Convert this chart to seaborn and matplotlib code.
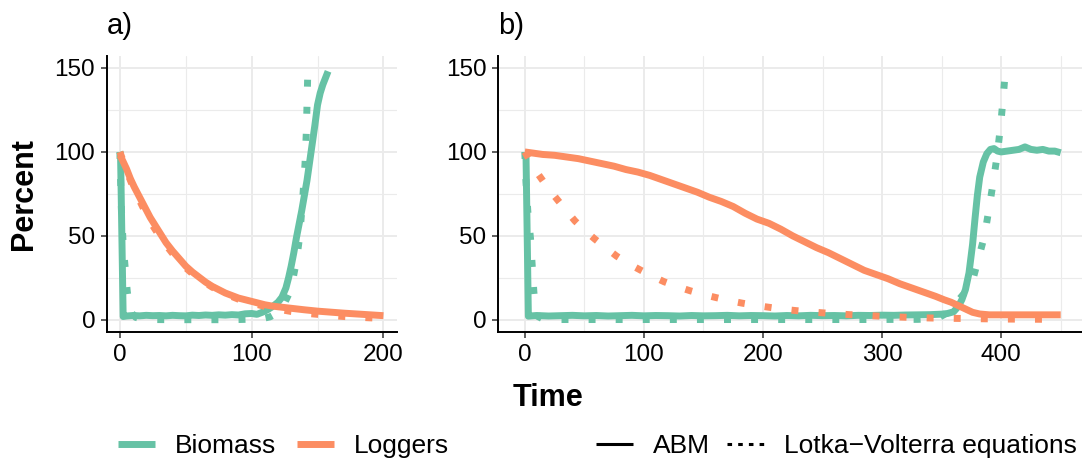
import numpy as np
import pandas as pd
import matplotlib
matplotlib.use("Agg")
import matplotlib.pyplot as plt
from matplotlib.lines import Line2D
import seaborn as sns

# ---------------- data ----------------
# Panel a) -- agent based model (ABM) runs
a_abm_biomass_t = [0, 0.5, 2.5, 5, 10, 15, 20, 25, 30, 35, 40, 45, 50, 55, 60, 65, 70, 75, 80,
                   85, 90, 95, 100, 104, 108, 112, 116, 120, 123, 126, 128, 130, 132, 134, 136,
                   138, 140, 142, 144, 146, 148, 150, 152, 154, 156, 158]
a_abm_biomass_v = [100, 99, 2.0, 2.3, 2.6, 2.4, 2.7, 2.5, 2.6, 2.4, 2.7, 2.5, 2.4, 2.8, 2.6, 2.9,
                   2.7, 3.0, 2.8, 3.1, 2.9, 3.6, 3.8, 3.3, 4.5, 6.0, 8.0, 10.5, 13.5, 19, 25, 32,
                   40, 49, 57, 65, 74, 83, 94, 105, 116, 128, 135, 140, 144, 148]
a_abm_loggers_t = [0, 2, 5, 8, 11, 15, 19, 23, 27, 31, 35, 40, 45, 50, 55, 60, 65, 70, 75, 80,
                   85, 90, 95, 100, 105, 110, 115, 120, 130, 140, 150, 160, 170, 180, 190, 200]
a_abm_loggers_v = [98, 95, 90, 84, 79, 73, 67, 61, 56, 51, 46, 41, 36.5, 32, 28.5, 25.5, 22.5,
                   20, 18, 16, 14.5, 13, 12, 11, 10, 9, 8.3, 7.8, 6.9, 6.0, 5.2, 4.6, 4.0, 3.5,
                   3.0, 2.5]
# Panel a) -- Lotka-Volterra solution
a_lv_biomass_t = [0, 0.5, 1.2, 2.5, 3.8, 5.6, 7, 9, 12, 16, 25, 40, 60, 80, 90, 100, 105, 110,
                  114, 118, 122, 125, 128, 131, 134, 136, 137.5, 139, 140.5, 141.5, 142, 142.5,
                  142.8]
a_lv_biomass_v = [100, 85, 65, 45, 33, 17, 9, 4, 1.5, 0.6, 0.2, 0.1, 0.1, 0.1, 0.2, 0.4, 0.7,
                  1.1, 1.8, 3.5, 6.5, 10, 15, 23, 35, 47, 60, 75, 93, 112, 128, 144, 149]
a_lv_loggers_t = [0, 5, 10, 15, 20, 25, 30, 35, 40, 45, 50, 55, 60, 70, 80, 90, 100, 110, 120,
                  130, 140, 150, 160, 170, 180, 190, 200]
a_lv_loggers_v = [100, 89, 79, 71, 63, 56, 50, 44.5, 39.5, 35, 31, 27.5, 24.5, 19.5, 15.5, 12.3,
                  10, 8, 6.4, 5.0, 4.0, 3.3, 2.6, 2.0, 1.6, 1.2, 0.9]

# Panel b) -- agent based model (ABM) runs
b_abm_biomass_t = [0, 1, 3, 6, 10, 20, 30, 40, 50, 60, 70, 80, 90, 100, 110, 120, 130, 140, 150,
                   160, 170, 180, 190, 200, 210, 220, 230, 240, 250, 260, 270, 280, 290, 300,
                   310, 320, 330, 340, 350, 355, 360, 364, 367, 370, 373, 376, 378, 380, 382,
                   385, 388, 391, 394, 397, 400, 405, 410, 415, 420, 425, 430, 435, 440, 445,
                   450]
b_abm_biomass_v = [100, 99, 2.2, 2.4, 2.6, 2.3, 2.5, 2.7, 2.4, 2.6, 2.3, 2.5, 2.7, 2.4, 2.6, 2.5,
                   2.3, 2.6, 2.4, 2.5, 2.7, 2.4, 2.6, 2.5, 2.3, 2.6, 2.4, 2.7, 2.5, 2.6, 2.4,
                   2.7, 2.6, 2.8, 2.7, 2.9, 3.0, 3.1, 3.4, 3.8, 4.8, 8, 12, 18, 28, 45, 60, 74,
                   85, 94, 99, 101.5, 102, 100.5, 100, 100.5, 101, 101.5, 103, 101.5, 101,
                   101.5, 100.5, 100.5, 99.5]
b_abm_loggers_t = [0, 5, 15, 25, 35, 45, 55, 65, 75, 85, 95, 105, 115, 125, 135, 145, 155, 165,
                   175, 185, 195, 205, 215, 225, 235, 245, 255, 265, 275, 285, 295, 305, 315,
                   325, 335, 345, 352, 358, 364, 370, 376, 382, 390, 400, 420, 450]
b_abm_loggers_v = [100, 99.5, 98.5, 98, 97, 96, 94.5, 93, 91.5, 89.5, 88, 86, 83.5, 81, 78.5, 76,
                   73, 70.5, 67.5, 63.5, 60, 57.5, 54, 50, 46.5, 43, 40, 36.5, 33, 29.5, 27,
                   24.5, 21.5, 19, 16.5, 14, 12, 10.5, 8.5, 6.5, 4.5, 3.5, 3, 3, 3, 3]
# Panel b) -- Lotka-Volterra solution
b_lv_biomass_t = [0, 1, 2.5, 4.8, 6.2, 7.6, 9, 11, 15, 25, 60, 120, 200, 280, 330, 340, 348,
                  353, 357, 362, 368, 373, 377, 380, 383, 386, 390, 394, 397, 399.7, 401.8,
                  403.5, 404.5]
b_lv_biomass_v = [100, 82, 65, 48.5, 32.6, 16.8, 6, 2, 0.6, 0.2, 0.2, 0.2, 0.2, 0.2, 0.3, 0.6,
                  1.5, 3.5, 6.7, 10, 15, 19, 26, 34, 42, 50, 67, 85, 100, 117, 133, 148.4,
                  150.5]
b_lv_loggers_t = [0, 5, 10, 14, 20, 28, 35, 42, 50, 59, 68, 77, 87, 97, 107, 117, 128, 139, 150,
                  161, 172, 183, 195, 206, 217, 228, 239, 250, 262, 273, 285, 296, 307, 318,
                  330, 342, 360, 380, 400, 420, 450]
b_lv_loggers_v = [100, 94, 88, 84, 78, 71, 65, 59, 53.5, 48, 43, 38, 33.5, 29.7, 26, 22.7, 19.8,
                  17.3, 15.1, 13.2, 11.4, 9.9, 8.5, 7.4, 6.3, 5.5, 4.8, 4.2, 3.6, 3.1, 2.7,
                  2.3, 1.9, 1.6, 1.3, 1.1, 0.9, 0.7, 0.5, 0.4, 0.3]

series_names = ["Biomass", "Loggers"]
model_names = ["ABM", "Lotka\u2212Volterra equations"]
panel_titles = ["a)", "b)"]
y_ticks = [0, 50, 100, 150]
a_x_ticks = [0, 100, 200]
b_x_ticks = [0, 100, 200, 300, 400]


def long_frame(parts):
    frames = []
    for series, model, t, v in parts:
        frames.append(pd.DataFrame({"Time": t, "Percent": v,
                                    "Series": series, "Model": model}))
    return pd.concat(frames, ignore_index=True)


df_a = long_frame([
    (series_names[0], model_names[0], a_abm_biomass_t, a_abm_biomass_v),
    (series_names[1], model_names[0], a_abm_loggers_t, a_abm_loggers_v),
    (series_names[0], model_names[1], a_lv_biomass_t, a_lv_biomass_v),
    (series_names[1], model_names[1], a_lv_loggers_t, a_lv_loggers_v),
])
df_b = long_frame([
    (series_names[0], model_names[0], b_abm_biomass_t, b_abm_biomass_v),
    (series_names[1], model_names[0], b_abm_loggers_t, b_abm_loggers_v),
    (series_names[0], model_names[1], b_lv_biomass_t, b_lv_biomass_v),
    (series_names[1], model_names[1], b_lv_loggers_t, b_lv_loggers_v),
])

# ---------------- style ----------------
sns.set_theme(style="white")
plt.rcParams["font.family"] = ["Liberation Sans", "DejaVu Sans"]
plt.rcParams["text.color"] = "black"
plt.rcParams["axes.labelcolor"] = "black"
plt.rcParams["xtick.color"] = "black"
plt.rcParams["ytick.color"] = "black"

palette = {series_names[0]: "#66C2A5", series_names[1]: "#FC8D62"}
dash_map = {model_names[0]: "", model_names[1]: (1, 2.9)}
GRID = "#EBEBEB"

W, H = 1082, 466
fig = plt.figure(figsize=(W / 100, H / 100), dpi=100)


def px_axes(left, right, top, bottom):
    return fig.add_axes([left / W, 1 - bottom / H, (right - left) / W, (bottom - top) / H])


ax_a = px_axes(106.7, 396.6, 55.7, 332.3)
ax_b = px_axes(498.0, 1087.5, 55.7, 332.3)

panels = [
    (ax_a, df_a, (-10, 210), a_x_ticks, [50, 150]),
    (ax_b, df_b, (-22.5, 472.5), b_x_ticks, [50, 150, 250, 350, 450]),
]

for ax, df, xlim, xt, xminor in panels:
    sns.lineplot(data=df, x="Time", y="Percent", hue="Series", style="Model",
                 palette=palette, dashes=dash_map, hue_order=series_names,
                 style_order=model_names, linewidth=5, legend=False,
                 solid_capstyle="butt", dash_capstyle="butt",
                 solid_joinstyle="round", ax=ax, estimator=None, sort=True)
    ax.set_xlim(*xlim)
    ax.set_ylim(-7.4, 157.3)
    ax.set_xticks(xt)
    ax.set_yticks(y_ticks)
    ax.set_xticks(xminor, minor=True)
    ax.set_yticks([25, 75, 125], minor=True)
    ax.grid(True, which="major", color=GRID, linewidth=1.4)
    ax.grid(True, which="minor", color=GRID, linewidth=0.8)
    ax.set_axisbelow(True)
    for side in ["top", "right"]:
        ax.spines[side].set_visible(False)
    for side in ["left", "bottom"]:
        ax.spines[side].set_visible(True)
        ax.spines[side].set_color("black")
        ax.spines[side].set_linewidth(1.4)
    ax.tick_params(which="major", length=4.3, width=1.1, color="#333333",
                   labelsize=17.5, labelcolor="black", pad=4, bottom=True, left=True)
    ax.tick_params(which="minor", length=0)
    ax.set_xlabel("")
    ax.set_ylabel("")
    ax.set_facecolor("white")

# panel tags
fig.text(106.7 / W, 1 - 33.5 / H, panel_titles[0], fontsize=21, ha="left", va="baseline",
         color="black")
fig.text(498.0 / W, 1 - 33.5 / H, panel_titles[1], fontsize=21, ha="left", va="baseline",
         color="black")

# axis titles
fig.text(24.5 / W, 1 - 194 / H, "Percent", fontsize=22, fontweight="bold",
         rotation=90, ha="center", va="center", color="black")
fig.text(513 / W, 1 - 406.5 / H, "Time", fontsize=22, fontweight="bold",
         ha="left", va="baseline", color="black")

# legends
colour_handles = [Line2D([], [], color=palette[s], linewidth=5, solid_capstyle="butt")
                  for s in series_names]
leg1 = fig.legend(colour_handles, series_names, loc="center left",
                  bbox_to_anchor=(118 / W, 1 - 446 / H), ncol=2, frameon=False,
                  fontsize=19, handlelength=1.4, handletextpad=0.76,
                  columnspacing=0.8, borderpad=0, borderaxespad=0, labelcolor="black")

model_handles = [Line2D([], [], color="black", linewidth=2.2, solid_capstyle="butt"),
                 Line2D([], [], color="black", linewidth=2.2, dash_capstyle="butt",
                        linestyle=(0, (1.5, 2.0)))]
leg2 = fig.legend(model_handles, model_names, loc="center left",
                  bbox_to_anchor=(596 / W, 1 - 446 / H), ncol=2, frameon=False,
                  fontsize=19, handlelength=1.4, handletextpad=0.76,
                  columnspacing=0.64, borderpad=0, borderaxespad=0, labelcolor="black")

fig.savefig("out.png", dpi=100, facecolor="white")
